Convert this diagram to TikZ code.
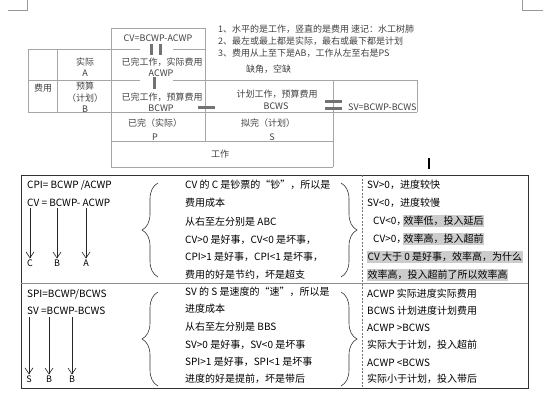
\documentclass[tikz,border=0pt]{standalone}
\usepackage{fontspec}
\setmainfont{Noto Sans CJK SC}
\usetikzlibrary{positioning,arrows.meta,decorations.pathreplacing}

\tikzset{
  gridline/.style={draw=black!35,line width=0.7pt},
  bar/.style={fill=black!55},
  small/.style={font=\fontsize{9}{10}\selectfont,text=black!75,inner sep=0pt},
  body/.style={font=\fontsize{10}{12}\selectfont,inner sep=0pt,anchor=west},
  letter/.style={font=\fontsize{9}{10}\selectfont,inner sep=1pt},
  hilite/.style={body,fill=black!20,inner xsep=0.5pt,inner ysep=0.8pt},
  bracebig/.style={decorate,decoration={brace,amplitude=16pt},black!80,line width=0.6pt},
}

\begin{document}
\begin{tikzpicture}[x=1pt,y=-1pt,>={Straight Barb[length=6pt,width=8pt]}]
  \useasboundingbox (0,0) rectangle (554,400);
  % 页角标记
  \draw[black!40] (8,10) -- (27,10) -- (27,0);
  \draw[black!40] (522,0) -- (522,10) -- (543,10);
  % 光标
  \draw[line width=1.2pt] (429,158) -- (429,169);

  % 上图：表格线
  \draw[gridline] (111,28) -- (205,28);
  \draw[gridline] (28,49) -- (140,49); \draw[gridline] (173,49) -- (205,49);
  \draw[gridline] (28,80) -- (140,80); \draw[gridline] (173,80) -- (417,80);
  \draw[gridline] (28,112) -- (417,112);
  \draw[gridline] (111,141) -- (333,141);
  \draw[gridline] (111,167) -- (333,167);
  \draw[gridline] (28,49) -- (28,112); \draw[gridline] (57,49) -- (57,112);
  \draw[gridline] (111,28) -- (111,167); \draw[gridline] (205,28) -- (205,141);
  \draw[gridline] (333,80) -- (333,167); \draw[gridline] (417,80) -- (417,112);
  % 等号、减号
  \fill[bar] (150,44) rectangle (153,55); \fill[bar] (159,44) rectangle (162,55);
  \fill[bar] (153,77) rectangle (156,89);
  \fill[bar] (198,105.5) rectangle (215,108.5);
  \fill[bar] (325,100) rectangle (342,103); \fill[bar] (325,107) rectangle (342,110);
  % 上图：文字
  \node[small] (cv) at (158,38) {CV=BCWP-ACWP};
  \node[small] (acwpa) at (162,62) {已完工作，实际费用};
  \node[small] (acwp) at (161,73) {ACWP};
  \node[small] (bcwpa) at (162,97) {已完工作，预算费用};
  \node[small] (bcwp) at (161,108) {BCWP};
  \node[small] (fy) at (43,88) {费用};
  \node[small] (sj) at (85,62) {实际};
  \node[small] (sja) at (85,73) {A};
  \node[small] (ys) at (85,86) {预算};
  \node[small] (jh) at (85,98) {（计划）};
  \node[small] (ysb) at (85,109) {B};
  \node[small] (bcwsa) at (277,94) {计划工作，预算费用};
  \node[small] (bcws) at (276,106) {BCWS};
  \node[small,anchor=west] (sv) at (348,107) {SV=BCWP-BCWS};
  \node[small] (yw) at (155,123) {已完（实际）};
  \node[small] (p) at (155,137) {P};
  \node[small] (nw) at (268,123) {拟完（计划）};
  \node[small] (s) at (272,137) {S};
  \node[small] (gz) at (220,154) {工作};
  % 说明
  \node[small,anchor=west] (n1) at (218,29) {1、水平的是工作，竖直的是费用 速记：水工树肺};
  \node[small,anchor=west] (n2) at (218,41) {2、最左或最上都是实际，最右或最下都是计划};
  \node[small,anchor=west] (n3) at (218,53) {3、费用从上至下是AB，工作从左至右是PS};
  \node[small,anchor=west] (n4) at (246,69) {缺角，空缺};

  % 下表
  \draw[black!80,line width=0.8pt] (21,175) rectangle (528,388);
  \draw[black!45] (21,283) -- (528,283);
  \draw[black!55,dash pattern=on 2pt off 1.5pt] (362,175) -- (362,388);

  % 上行：CPI / CV
  \node[body] (cpi) at (27,185) {CPI= BCWP /ACWP};
  \node[body] (cvf) at (27,203) {CV = BCWP- ACWP};
  \node[letter] (lc) at (30,263) {C};
  \node[letter] (lb) at (57,263) {B};
  \node[letter] (la) at (86,263) {A};
  \coordinate (tc) at (30,208); \coordinate (tb) at (57,208); \coordinate (ta) at (86,208);
  \foreach \a/\b in {tc/lc,tb/lb,ta/la} {\draw[->,black!85,line width=0.6pt] (\a) -- (\b.north);}
  \draw[bracebig] (158,277) -- (158,183);
  \draw[bracebig] (341,183) -- (341,277);
  \node[body] (c1) at (185,185) {CV 的 C 是钞票的“钞”，所以是};
  \node[body] (c2) at (185,203) {费用成本};
  \node[body] (c3) at (185,222) {从右至左分别是 ABC};
  \node[body] (c4) at (185,240) {CV>0 是好事，CV<0 是坏事，};
  \node[body] (c5) at (185,257) {CPI>1 是好事，CPI<1 是坏事，};
  \node[body] (c6) at (185,275) {费用的好是节约，坏是超支};
  \node[body] (r1) at (367,185) {SV>0，进度较快};
  \node[body] (r2) at (367,203) {SV<0，进度较慢};
  \node[body] (r3) at (373,221) {CV<0，};
  \node[hilite] (r3h) at (403,221) {效率低，投入延后};
  \node[body] (r4) at (373,239) {CV>0，};
  \node[hilite] (r4h) at (403,239) {效率高，投入超前};
  \node[hilite] (r5) at (367,257) {CV 大于 0 是好事，效率高，为什么};
  \node[hilite] (r6) at (367,275) {效率高，投入超前了所以效率高};

  % 下行：SPI / SV
  \node[body] (spi) at (27,294) {SPI=BCWP/BCWS};
  \node[body] (svf) at (27,311) {SV =BCWP-BCWS};
  \node[letter] (ls) at (29,379) {S};
  \node[letter] (lb1) at (49,379) {B};
  \node[letter] (lb2) at (72,379) {B};
  \coordinate (ts) at (29,317); \coordinate (tb1) at (49,317); \coordinate (tb2) at (72,317);
  \foreach \a/\b in {ts/ls,tb1/lb1,tb2/lb2} {\draw[->,black!85,line width=0.6pt] (\a) -- (\b.north);}
  \draw[bracebig] (158,386) -- (158,292);
  \draw[bracebig] (341,292) -- (341,386);
  \node[body] (d1) at (185,292) {SV 的 S 是速度的“速”，所以是};
  \node[body] (d2) at (185,309) {进度成本};
  \node[body] (d3) at (185,327) {从右至左分别是 BBS};
  \node[body] (d4) at (185,345) {SV>0 是好事，SV<0 是坏事};
  \node[body] (d5) at (185,362) {SPI>1 是好事，SPI<1 是坏事};
  \node[body] (d6) at (185,379) {进度的好是提前，坏是带后};
  \node[body] (e1) at (367,294) {ACWP 实际进度实际费用};
  \node[body] (e2) at (367,311) {BCWS 计划进度计划费用};
  \node[body] (e3) at (367,328) {ACWP >BCWS};
  \node[body] (e4) at (367,345) {实际大于计划，投入超前};
  \node[body] (e5) at (367,363) {ACWP <BCWS};
  \node[body] (e6) at (367,379) {实际小于计划，投入带后};
\end{tikzpicture}
\end{document}
